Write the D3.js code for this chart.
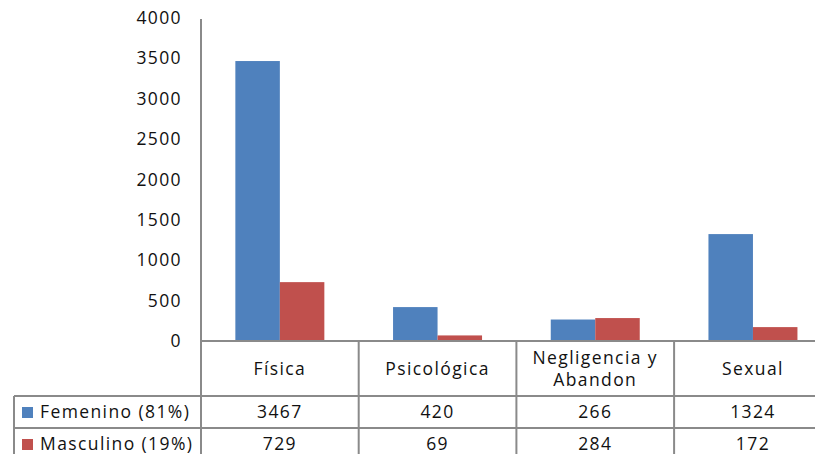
<!DOCTYPE html>
<html>
<head>
<meta charset="utf-8">
<script src="https://cdn.jsdelivr.net/npm/d3@7"></script>
<style>
  html, body { margin: 0; padding: 0; background: #fff; }
  svg { display: block; }
  text { font-family: "Open Sans", "DejaVu Sans", sans-serif; fill: #111; }
</style>
</head>
<body>
<svg id="chart" width="815" height="454"></svg>
<script>
// Casos por tipo de maltrato, según sexo
const categories = ["Física", "Psicológica", "Negligencia y\nAbandon", "Sexual"];
const seriesNames = ["Femenino (81%)", "Masculino (19%)"];
const femenino = [3467, 420, 266, 1324];
const masculino = [729, 69, 284, 172];
const yTicks = [0, 500, 1000, 1500, 2000, 2500, 3000, 3500, 4000];
const colors = ["#4F81BD", "#C0504D"];

const seriesValues = [femenino, masculino];

const svg = d3.select("#chart");
const gridColor = "#8a8a8a";
const fontSize = 17.5, spacing = "1.4px";

const plotLeft = 201, plotTop = 18, plotBottom = 341;
const catStep = 157.7;
const plotRight = plotLeft + catStep * categories.length;

const x0 = d3.scaleBand().domain(categories).range([plotLeft, plotRight]).padding(0);
const x1 = d3.scaleBand().domain(seriesNames).range([0, x0.bandwidth()])
  .paddingInner(0).paddingOuter(0.772);
const y = d3.scaleLinear().domain([0, 4000]).range([plotBottom, plotTop]);

// bars
seriesNames.forEach((s, si) => {
  svg.append("g").selectAll("rect")
    .data(categories.map((c, i) => ({ c, v: seriesValues[si][i] })))
    .join("rect")
    .attr("x", d => x0(d.c) + x1(s))
    .attr("y", d => y(d.v))
    .attr("width", x1.bandwidth())
    .attr("height", d => y(0) - y(d.v))
    .attr("fill", colors[si]);
});

// y axis
const yAxis = d3.axisLeft(y).tickValues(yTicks).tickSize(0).tickPadding(19).tickFormat(d3.format("d"));
const gy = svg.append("g").attr("transform", `translate(${plotLeft},0)`).call(yAxis);
gy.select(".domain").remove();
gy.selectAll("text").attr("font-size", fontSize).attr("font-family", null).attr("fill", "#111")
  .attr("letter-spacing", spacing);

// table geometry
const headerBottom = 396, row1Bottom = 428, row2Bottom = 462;
const tableLeft = 14;

const lines = svg.append("g").attr("stroke", gridColor).attr("stroke-width", 2).attr("fill", "none");
// value axis line
lines.append("line").attr("x1", plotLeft).attr("x2", plotLeft).attr("y1", plotTop + 1).attr("y2", row2Bottom);
// category axis / table top
lines.append("line").attr("x1", plotLeft).attr("x2", 815).attr("y1", plotBottom).attr("y2", plotBottom);
// row separators
[headerBottom, row1Bottom].forEach(yy => {
  lines.append("line").attr("x1", tableLeft).attr("x2", 815).attr("y1", yy).attr("y2", yy);
});
// table left edge
lines.append("line").attr("x1", tableLeft).attr("x2", tableLeft).attr("y1", headerBottom).attr("y2", row2Bottom);
// category dividers
categories.slice(1).forEach(c => {
  lines.append("line").attr("x1", x0(c)).attr("x2", x0(c)).attr("y1", plotBottom).attr("y2", row2Bottom);
});

// category labels
const catLabels = svg.append("g").attr("font-size", fontSize).attr("text-anchor", "middle").attr("letter-spacing", spacing);
categories.forEach(c => {
  const parts = c.split("\n");
  const cx = x0(c) + x0.bandwidth() / 2;
  const mid = (plotBottom + headerBottom) / 2;
  const lh = 22;
  parts.forEach((p, i) => {
    catLabels.append("text")
      .attr("x", cx)
      .attr("y", mid + (i - (parts.length - 1) / 2) * lh)
      .attr("dy", "0.35em")
      .text(p);
  });
});

// data rows with legend keys
const rowMids = [(headerBottom + row1Bottom) / 2, (row1Bottom + 460) / 2];
seriesNames.forEach((s, si) => {
  const g = svg.append("g").attr("font-size", fontSize).attr("letter-spacing", spacing);
  g.append("rect").attr("x", 22).attr("y", rowMids[si] - 5).attr("width", 11).attr("height", 11)
    .attr("fill", colors[si]);
  g.append("text").attr("x", 40).attr("y", rowMids[si]).attr("dy", "0.35em").text(s);
  categories.forEach((c, i) => {
    g.append("text")
      .attr("x", x0(c) + x0.bandwidth() / 2)
      .attr("y", rowMids[si])
      .attr("dy", "0.35em")
      .attr("text-anchor", "middle")
      .text(seriesValues[si][i]);
  });
});
</script>
</body>
</html>
